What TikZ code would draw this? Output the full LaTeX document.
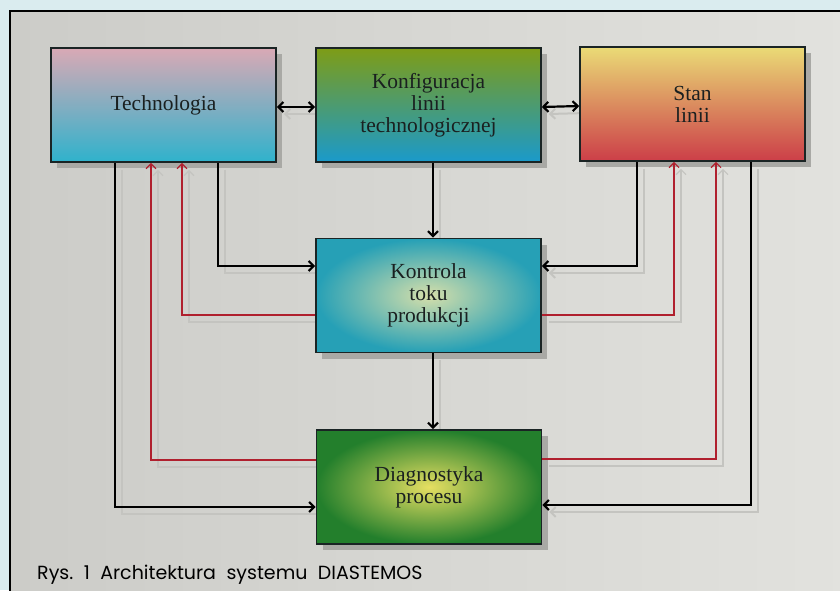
\documentclass[tikz,border=0pt]{standalone}
\usepackage{fontspec}
\setmainfont{Liberation Serif}
\newfontfamily\capfont{Poppins}
\usetikzlibrary{arrows.meta,shadows}

\definecolor{outside}{HTML}{DAECEF}
\definecolor{panelL}{HTML}{CCCCC8}
\definecolor{panelR}{HTML}{E2E2DE}
\definecolor{boxline}{HTML}{1A2424}
\definecolor{boxtext}{HTML}{1A2020}
\definecolor{wirered}{HTML}{B0202E}
\definecolor{ghost}{HTML}{C4C4C0}
\definecolor{boxshadow}{HTML}{A9A9A5}
% block fills
\definecolor{techT}{HTML}{D9A9B5}
\definecolor{techM}{HTML}{B0B6BE}
\definecolor{techB}{HTML}{2FB2CC}
\definecolor{konfT}{HTML}{7E9C16}
\definecolor{konfM}{HTML}{2E8A48}
\definecolor{konfB}{HTML}{1A9ACB}
\definecolor{stanT}{HTML}{EADB76}
\definecolor{stanM}{HTML}{E29A58}
\definecolor{stanB}{HTML}{CC3E48}
\definecolor{kontI}{HTML}{D6DFAA}
\definecolor{kontO}{HTML}{26A0B6}
\definecolor{diagI}{HTML}{E6DF62}
\definecolor{diagO}{HTML}{237F2C}

\pgfdeclarelayer{panel}
\pgfdeclarelayer{ghosts}
\pgfsetlayers{panel,ghosts,main}

\tikzset{
  box/.style={draw=boxline, line width=1.6pt, minimum width=225pt,
    minimum height=114pt, inner sep=0pt, align=center, text=boxtext,
    font=\fontsize{21.5}{22}\selectfont,
    drop shadow={shadow xshift=6pt, shadow yshift=-6pt, fill=boxshadow, opacity=1}},
  blk/.style={draw=black, line width=2.2pt},
  rd/.style={draw=wirered, line width=1.2pt},
}

% all connectors, drawn once as a pale offset copy and once for real
\newcommand{\wiring}{%
  \draw[blk,<->] ([yshift=-2pt]tech.east) -- ([yshift=-2pt]konf.west);
  \draw[blk,<->] ([yshift=-2pt]konf.east) -- ([yshift=-2pt]stan.west);
  \draw[blk,->] ([xshift=4.5pt]konf.south) -- ([xshift=4.5pt]kontrola.north);
  \draw[blk,->] ([xshift=4.5pt]kontrola.south) -- ([xshift=4pt]diag.north);
  \draw[blk,->] ([xshift=54.5pt]tech.south) |- ([yshift=29.5pt]kontrola.west);
  \draw[blk,->] ([xshift=-55.5pt]stan.south) |- ([yshift=29.5pt]kontrola.east);
  \draw[blk,->] ([xshift=-48.5pt]tech.south) |- ([yshift=-20pt]diag.west);
  \draw[blk,->] ([xshift=58.5pt]stan.south) |- ([yshift=-18pt]diag.east);
  \draw[rd,->] ([yshift=-19.5pt]kontrola.west) -| ([xshift=18.5pt]tech.south);
  \draw[rd,->] ([yshift=27pt]diag.west) -| ([xshift=-12.5pt]tech.south);
  \draw[rd,->] ([yshift=-19.5pt]kontrola.east) -| ([xshift=-18.5pt]stan.south);
  \draw[rd,->] ([yshift=28pt]diag.east) -| ([xshift=23.5pt]stan.south);
}

\begin{document}
\begin{tikzpicture}[x=1pt, y=-1pt,
    >={Straight Barb[length=5pt, width=10pt]}]
  \useasboundingbox (0,0) rectangle (840,590);
  % page and framed panel
  \begin{pgfonlayer}{panel}
    \fill[outside] (0,0) rectangle (840,590);
    \shade[left color=panelL, right color=panelR] (10,11) rectangle (852,602);
    \draw[black, line width=1.4pt] (10,602) -- (10,11) -- (852,11);
  \end{pgfonlayer}

  % blocks
  \node[box, top color=techT, middle color=techM, bottom color=techB]
    (tech) at (163.5,105) {Technologia};
  \node[box, top color=konfT, middle color=konfM, bottom color=konfB]
    (konf) at (428.5,105) {Konfiguracja\\linii\\technologicznej};
  \node[box, top color=stanT, middle color=stanM, bottom color=stanB]
    (stan) at (692.5,104) {Stan\\linii};
  \node[box, inner color=kontI, outer color=kontO]
    (kontrola) at (428.5,295.5) {Kontrola\\toku\\produkcji};
  \node[box, inner color=diagI, outer color=diagO]
    (diag) at (429,487) {Diagnostyka\\procesu};

  % connectors, with their pale offset copies behind everything
  \begin{pgfonlayer}{ghosts}
    \begin{scope}[transform canvas={shift={(7pt,-7pt)}},
        blk/.style={draw=ghost, line width=2pt},
        rd/.style={draw=ghost, line width=1.2pt}]
      \wiring
    \end{scope}
  \end{pgfonlayer}
  \wiring

  % caption
  \node[anchor=base west, inner sep=0pt, text=black,
    font=\capfont\fontsize{19}{19}\selectfont] (caption) at (37,579)
    {\spaceskip=0.55em\relax Rys.\ 1 Architektura systemu DIASTEMOS};
\end{tikzpicture}
\end{document}
